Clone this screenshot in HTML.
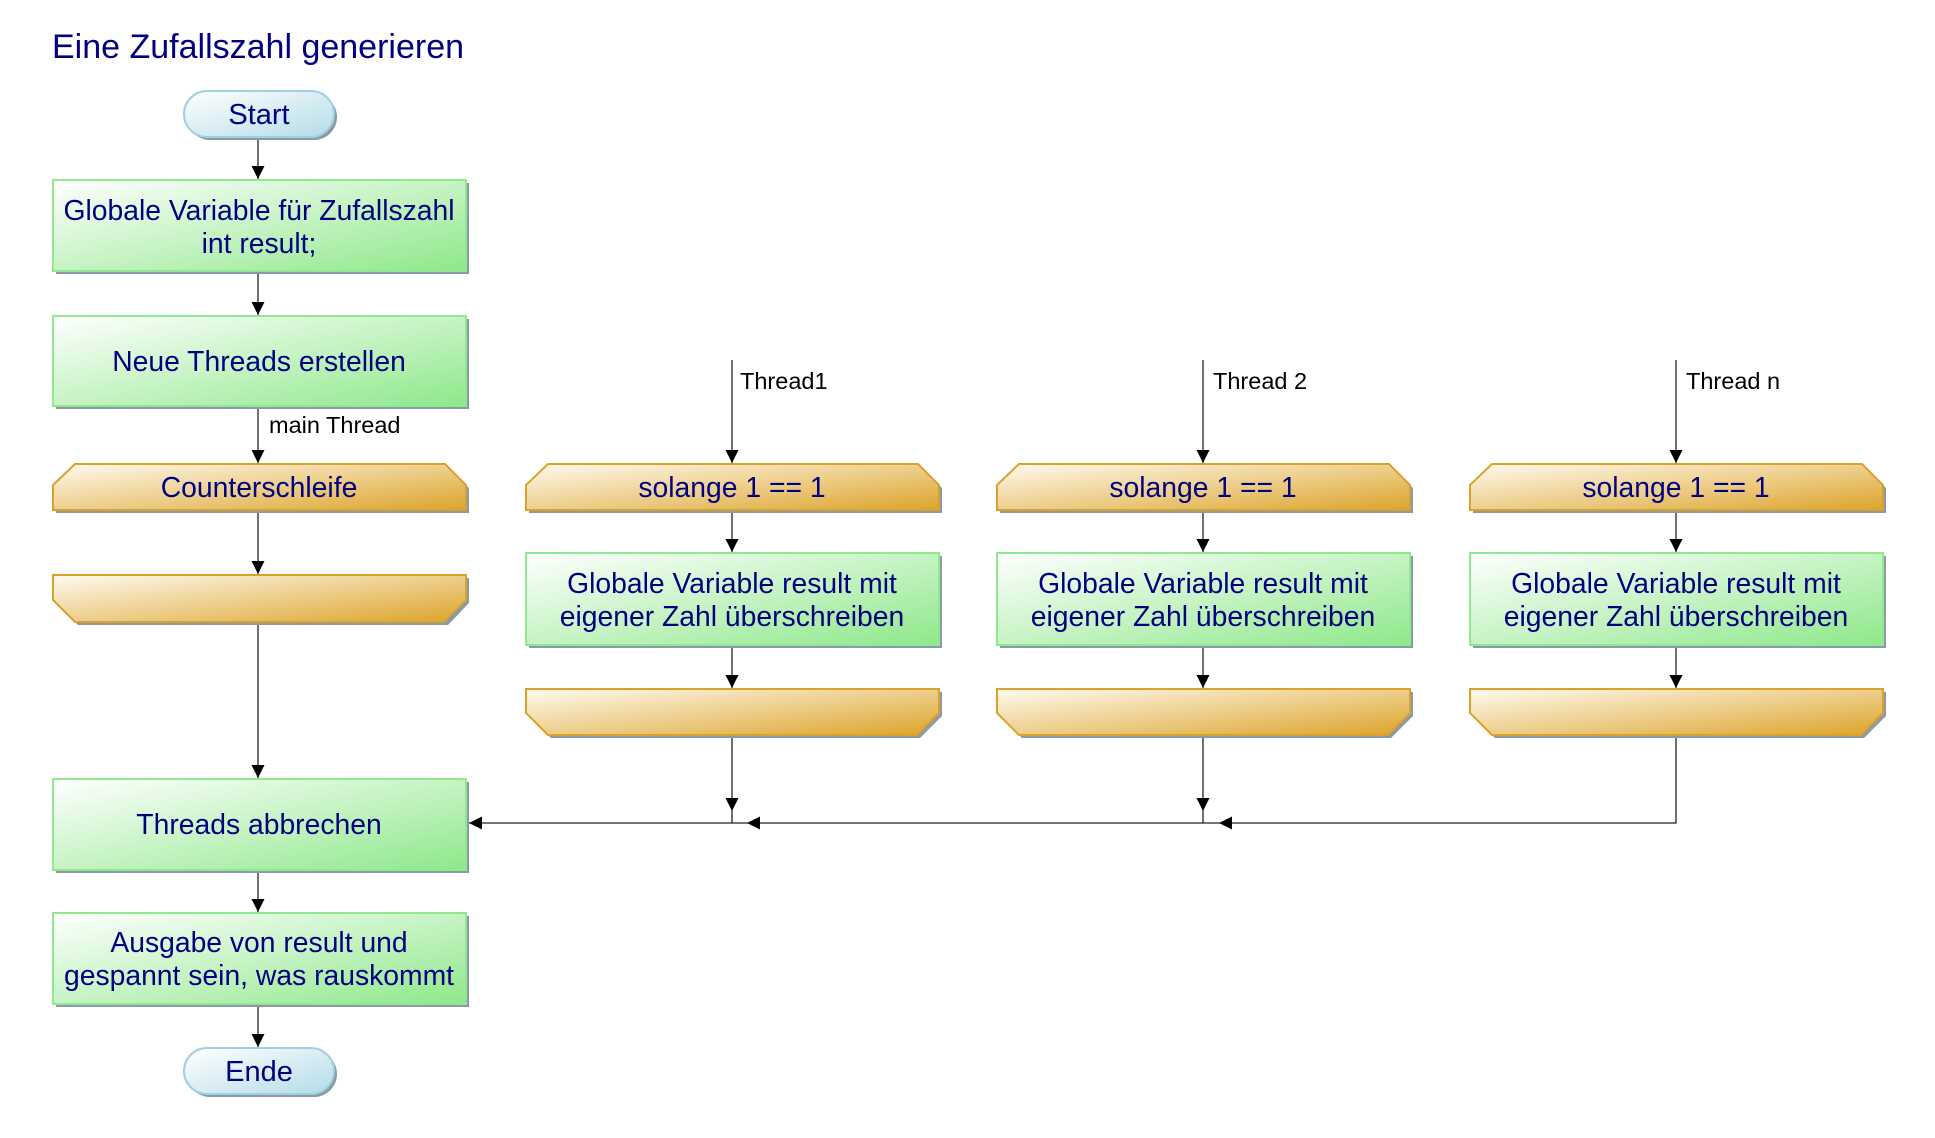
<!DOCTYPE html>
<html><head><meta charset="utf-8"><style>
html,body{margin:0;padding:0;background:#fff;width:1935px;height:1138px;overflow:hidden}
text{font-family:"Liberation Sans",Arial,sans-serif}
</style></head><body>
<svg width="1935" height="1138" viewBox="0 0 1935 1138" xmlns="http://www.w3.org/2000/svg">
<defs>
<linearGradient id="g" x1="0" y1="0" x2="1" y2="1"><stop offset="0" stop-color="#ffffff"/><stop offset="1" stop-color="#8ee88a"/></linearGradient>
<linearGradient id="o" x1="0" y1="0" x2="1" y2="1"><stop offset="0" stop-color="#fffaf0"/><stop offset="1" stop-color="#dca42a"/></linearGradient>
<linearGradient id="b" x1="0" y1="0" x2="1" y2="1"><stop offset="0" stop-color="#ffffff"/><stop offset="1" stop-color="#b4dce8"/></linearGradient>
<marker id="a" viewBox="0 0 10 10" refX="10" refY="5" markerWidth="13" markerHeight="13" markerUnits="userSpaceOnUse" orient="auto"><path d="M0,0 L10,5 L0,10 z" fill="#000"/></marker>
</defs>
<text x="52" y="58" font-size="34" fill="#000080">Eine Zufallszahl generieren</text>

<g stroke="#222" stroke-width="1.3" fill="none">
<line x1="258" y1="137" x2="258" y2="179" marker-end="url(#a)"/>
<line x1="258" y1="271" x2="258" y2="315" marker-end="url(#a)"/>
<line x1="258" y1="406" x2="258" y2="463" marker-end="url(#a)"/>
<line x1="258" y1="510" x2="258" y2="574" marker-end="url(#a)"/>
<line x1="258" y1="622" x2="258" y2="778" marker-end="url(#a)"/>
<line x1="258" y1="870" x2="258" y2="912" marker-end="url(#a)"/>
<line x1="258" y1="1004" x2="258" y2="1047" marker-end="url(#a)"/>
<line x1="732" y1="360" x2="732" y2="463" marker-end="url(#a)"/>
<line x1="1203" y1="360" x2="1203" y2="463" marker-end="url(#a)"/>
<line x1="1676" y1="360" x2="1676" y2="463" marker-end="url(#a)"/>
<line x1="732" y1="510" x2="732" y2="552" marker-end="url(#a)"/>
<line x1="1203" y1="510" x2="1203" y2="552" marker-end="url(#a)"/>
<line x1="1676" y1="510" x2="1676" y2="552" marker-end="url(#a)"/>
<line x1="732" y1="645" x2="732" y2="688" marker-end="url(#a)"/>
<line x1="1203" y1="645" x2="1203" y2="688" marker-end="url(#a)"/>
<line x1="1676" y1="645" x2="1676" y2="688" marker-end="url(#a)"/>
<line x1="732" y1="735" x2="732" y2="811" marker-end="url(#a)"/>
<line x1="1203" y1="735" x2="1203" y2="811" marker-end="url(#a)"/>
<line x1="732" y1="811" x2="732" y2="823"/>
<line x1="1203" y1="811" x2="1203" y2="823"/>
<polyline points="1676,735 1676,823 1219,823" marker-end="url(#a)"/>
<line x1="1219" y1="823" x2="747" y2="823" marker-end="url(#a)"/>
<line x1="747" y1="823" x2="469" y2="823" marker-end="url(#a)"/>
</g>

<g font-size="23.5" fill="#000">
<text x="269" y="433">main Thread</text>
<text x="740" y="389">Thread1</text>
<text x="1213" y="389">Thread 2</text>
<text x="1686" y="389">Thread n</text>
</g>

<rect x="187" y="94" width="150" height="46" rx="23" fill="#8a9aa8"/>
<rect x="184" y="91" width="150" height="46" rx="23" fill="url(#b)" stroke="#9fcfe0" stroke-width="2"/>
<text x="259" y="124" font-size="29" fill="#000080" text-anchor="middle">Start</text>
<rect x="187" y="1051" width="150" height="46" rx="23" fill="#8a9aa8"/>
<rect x="184" y="1048" width="150" height="46" rx="23" fill="url(#b)" stroke="#9fcfe0" stroke-width="2"/>
<text x="259" y="1081" font-size="29" fill="#000080" text-anchor="middle">Ende</text>

<g>
<rect x="56" y="183" width="413" height="91" fill="#8a9aa8"/>
<rect x="53" y="180" width="413" height="91" fill="url(#g)" stroke="#90e890" stroke-width="2"/>
<rect x="56" y="319" width="413" height="90" fill="#8a9aa8"/>
<rect x="53" y="316" width="413" height="90" fill="url(#g)" stroke="#90e890" stroke-width="2"/>
<rect x="56" y="782" width="413" height="91" fill="#8a9aa8"/>
<rect x="53" y="779" width="413" height="91" fill="url(#g)" stroke="#90e890" stroke-width="2"/>
<rect x="56" y="916" width="413" height="91" fill="#8a9aa8"/>
<rect x="53" y="913" width="413" height="91" fill="url(#g)" stroke="#90e890" stroke-width="2"/>
<rect x="529" y="556" width="413" height="92" fill="#8a9aa8"/>
<rect x="526" y="553" width="413" height="92" fill="url(#g)" stroke="#90e890" stroke-width="2"/>
<rect x="1000" y="556" width="413" height="92" fill="#8a9aa8"/>
<rect x="997" y="553" width="413" height="92" fill="url(#g)" stroke="#90e890" stroke-width="2"/>
<rect x="1473" y="556" width="413" height="92" fill="#8a9aa8"/>
<rect x="1470" y="553" width="413" height="92" fill="url(#g)" stroke="#90e890" stroke-width="2"/>
</g>

<g stroke="#d9a22a" stroke-width="2">
<path d="M78,467 L448,467 L469,488 L469,513 L56,513 L56,488 Z" fill="#8a9aa8" stroke="none"/>
<path d="M75,464 L445,464 L466,485 L466,510 L53,510 L53,485 Z" fill="url(#o)"/>
<path d="M56,578 L469,578 L469,603 L448,625 L78,625 L56,603 Z" fill="#8a9aa8" stroke="none"/>
<path d="M53,575 L466,575 L466,600 L444,622 L75,622 L53,600 Z" fill="url(#o)"/>
<g id="t1">
<path d="M551,467 L921,467 L942,488 L942,513 L529,513 L529,488 Z" fill="#8a9aa8" stroke="none"/>
<path d="M548,464 L918,464 L939,485 L939,510 L526,510 L526,485 Z" fill="url(#o)"/>
<path d="M529,692 L942,692 L942,716 L920,738 L551,738 L529,716 Z" fill="#8a9aa8" stroke="none"/>
<path d="M526,689 L939,689 L939,713 L917,735 L548,735 L526,713 Z" fill="url(#o)"/>
</g>
<use href="#t1" x="471"/>
<use href="#t1" x="944"/>
</g>

<g font-size="28.3" fill="#000080" text-anchor="middle">
<text x="259" y="220">Globale Variable für Zufallszahl</text>
<text x="259" y="253">int result;</text>
<text x="259" y="371">Neue Threads erstellen</text>
<text x="259" y="497">Counterschleife</text>
<text x="259" y="834">Threads abbrechen</text>
<text x="259" y="952">Ausgabe von result und</text>
<text x="259" y="985">gespannt sein, was rauskommt</text>
<text x="732" y="497">solange 1 == 1</text>
<text x="1203" y="497">solange 1 == 1</text>
<text x="1676" y="497">solange 1 == 1</text>
<text x="732" y="593">Globale Variable result mit</text>
<text x="732" y="626">eigener Zahl überschreiben</text>
<text x="1203" y="593">Globale Variable result mit</text>
<text x="1203" y="626">eigener Zahl überschreiben</text>
<text x="1676" y="593">Globale Variable result mit</text>
<text x="1676" y="626">eigener Zahl überschreiben</text>
</g>
</svg>
</body></html>
